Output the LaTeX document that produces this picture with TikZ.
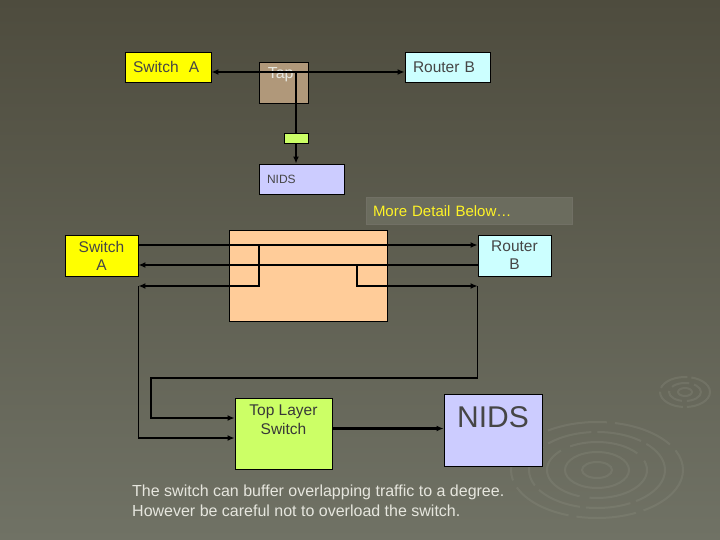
\documentclass[tikz,border=0pt]{standalone}
\usepackage{fontspec}
\setmainfont{Liberation Sans}
\usetikzlibrary{arrows.meta,positioning,calc}
\definecolor{slidetop}{RGB}{78,76,62}
\definecolor{slidebot}{RGB}{112,114,101}
\definecolor{swyellow}{RGB}{255,255,0}
\definecolor{rtcyan}{RGB}{204,255,255}
\definecolor{tapbrown}{RGB}{176,152,122}
\definecolor{nidsblue}{RGB}{204,204,255}
\definecolor{mirrorpeach}{RGB}{255,204,153}
\definecolor{portgreen}{RGB}{204,255,102}
\definecolor{notegray}{RGB}{107,108,94}
\definecolor{boxtext}{RGB}{70,70,70}
\definecolor{captext}{RGB}{230,230,222}
\definecolor{ringgray}{RGB}{140,142,128}
\tikzset{
  netbox/.style={draw=black, line width=0.9pt, inner sep=0pt, text=boxtext,
    font=\fontsize{15.5}{18}\selectfont},
  swbox/.style={netbox, fill=swyellow},
  rtbox/.style={netbox, fill=rtcyan},
  idsbox/.style={netbox, fill=nidsblue},
  link/.style={line width=2.4pt, -{Latex[length=7pt,width=6pt]}},
  dlink/.style={line width=2.4pt, {Latex[length=7pt,width=6pt]}-{Latex[length=7pt,width=6pt]}},
  feed/.style={line width=1.8pt, -{Latex[length=7pt,width=6pt]}},
  ring/.style={ringgray, line width=2pt, opacity=0.3}
}
\begin{document}
\begin{tikzpicture}[x=1pt, y=-1pt]
  % slide background
  \fill[top color=slidetop, bottom color=slidebot] (0,0) rectangle (720,540);
  \useasboundingbox (0,0) rectangle (720,540);
  \draw[ring, dash pattern=on 30pt off 4pt] (685,392) ellipse [x radius=25, y radius=15];
  \draw[ring, dash pattern=on 18pt off 5pt] (685,392) ellipse [x radius=16, y radius=9];
  \draw[ring] (685,392) ellipse [x radius=7, y radius=4];
  \draw[ring, dash pattern=on 60pt off 8pt] (597,470) ellipse [x radius=86, y radius=48];
  \draw[ring, dash pattern=on 45pt off 6pt] (597,470) ellipse [x radius=68, y radius=38];
  \draw[ring, dash pattern=on 70pt off 10pt] (597,470) ellipse [x radius=50, y radius=28];
  \draw[ring] (597,470) ellipse [x radius=32, y radius=18];
  \draw[ring] (597,470) ellipse [x radius=15, y radius=8];

  % simple tap
  \node[swbox, minimum width=86pt, minimum height=30pt, text width=70pt, align=left] (swA) at (168,67) {Switch\ \ A};
  \node[netbox, fill=tapbrown, minimum width=49pt, minimum height=41pt,
    label={[anchor=north west, inner sep=0pt, text=captext, font=\fontsize{16}{18}\selectfont, xshift=9pt, yshift=-6pt]north west:Tap}] (tap) at (283.5,82.5) {};
  \node[rtbox, minimum width=85pt, minimum height=30pt, text width=69pt, align=left] (rtB) at (447.5,67) {Router B};
  \node[idsbox, minimum width=85pt, minimum height=30pt, text width=69pt, align=left,
    font=\fontsize{12}{14}\selectfont] (nids) at (301.5,179) {NIDS};
  \coordinate (tapmid) at (296,72);
  \draw[dlink] (swA.east |- tapmid) -- (rtB.west |- tapmid);
  \draw[link] (tapmid) -- (nids.north -| tapmid);
  \node[netbox, fill=portgreen, minimum width=24pt, minimum height=10pt] (tapport) at (296,138) {};

  \node[fill=notegray, draw=slidetop!80, line width=1pt, minimum width=206pt, minimum height=27pt,
    text width=192pt, align=left, inner sep=0pt, text=yellow!85!white,
    font=\fontsize{15}{18}\selectfont] (more) at (469,211.5) {More Detail Below\dots};

  % detailed layout
  \node[swbox, minimum width=73pt, minimum height=41pt, align=center] (swA2) at (101.5,255.5) {Switch\\A};
  \node[rtbox, minimum width=73pt, minimum height=41pt, align=center] (rtB2) at (514.5,255.5) {Router\\B};
  \node[netbox, fill=mirrorpeach, minimum width=158pt, minimum height=91pt] (mirror) at (308,275.5) {};
  \coordinate (lane1) at (0,245);
  \coordinate (lane2) at (0,265);
  \coordinate (lane3) at (0,286);
  \coordinate (spanL) at (259,245);
  \coordinate (spanR) at (357,265);
  \coordinate (loopc) at (151,378);
  \draw[link] (swA2.east |- lane1) -- (rtB2.west |- lane1);
  \draw[link] (rtB2.west |- lane2) -- (swA2.east |- lane2);
  \draw[link] (spanL) |- (swA2.east |- lane3);
  \draw[link] (spanR) |- (rtB2.west |- lane3);

  \node[netbox, fill=portgreen, minimum width=97pt, minimum height=71pt,
    label={[anchor=north, inner sep=0pt, align=center, text=boxtext!80!black,
      font=\fontsize{15.5}{19}\selectfont, yshift=-7pt]north:Top Layer\\Switch}] (tls) at (283.5,433.5) {};
  \node[idsbox, minimum width=98pt, minimum height=72pt,
    label={[anchor=north, inner sep=0pt, text=boxtext,
      font=\fontsize{30}{32}\selectfont, yshift=-13pt]north:NIDS}] (nids2) at (493,430) {};
  \draw[feed] (swA2.east |- lane3) |- ($(tls.west)+(0,4.5)$);
  \draw[feed] (rtB2.west |- lane3) |- (loopc) |- ($(tls.west)+(0,-15.5)$);
  \draw[link] ($(tls.east)+(0,-5)$) -- ($(tls.east -| nids2.west)+(0,-5)$);

  \node[anchor=north west, align=left, inner sep=0pt, text=captext,
    font=\fontsize{16}{19.5}\selectfont] (note) at (132,485)
    {The switch can buffer overlapping traffic to a degree.\\However be careful not to overload the switch.};
\end{tikzpicture}
\end{document}
